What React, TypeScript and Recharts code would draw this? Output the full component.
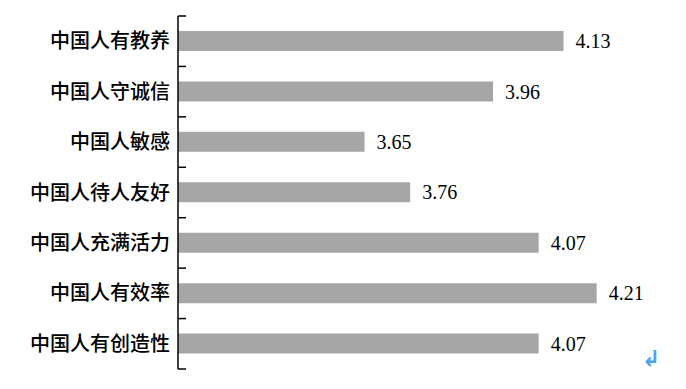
import { BarChart, Bar, XAxis, YAxis, LabelList } from 'recharts';

const categories = ['中国人有教养', '中国人守诚信', '中国人敏感', '中国人待人友好', '中国人充满活力', '中国人有效率', '中国人有创造性'];
const scores = [4.13, 3.96, 3.65, 3.76, 4.07, 4.21, 4.07];

const data = categories.map((name, i) => ({ name, score: scores[i] }));

const serif = '"Times New Roman", "Liberation Serif", serif';
const cjk = '"Noto Sans CJK SC", "Noto Sans", sans-serif';

// category label plus the small inward ticks at the band edges
function CategoryTick(props: any) {
  const { x, y, payload, index, visibleTicksCount } = props;
  const half = payload.offset ?? 0;
  const axisX = x + 8;
  const last = index === visibleTicksCount - 1;
  return (
    <g>
      <text x={x} y={y} dy="0.355em" textAnchor="end" fontSize={20} fill="#000" fontFamily={cjk} fontWeight={500}>
        {payload.value}
      </text>
      <line x1={axisX} x2={axisX + 8} y1={y - half} y2={y - half} stroke="#000" strokeWidth={1.5} />
      {last && <line x1={axisX} x2={axisX + 8} y1={y + half} y2={y + half} stroke="#000" strokeWidth={1.5} />}
    </g>
  );
}

export default function App() {
  return (
    <div style={{ position: 'absolute', left: 0, top: 0, width: 686, height: 389, background: '#fff' }}>
      <BarChart
        width={686}
        height={389}
        data={data}
        layout="vertical"
        margin={{ top: 16, right: 52, left: 0, bottom: 20 }}
      >
        <XAxis type="number" domain={[3.2, 4.3]} hide allowDataOverflow />
        <YAxis
          type="category"
          dataKey="name"
          width={178}
          tickLine={false}
          axisLine={{ stroke: '#000', strokeWidth: 1.5 }}
          tick={<CategoryTick />}
        />
        <Bar dataKey="score" fill="#a6a6a6" barSize={20} isAnimationActive={false}>
          <LabelList
            dataKey="score"
            position="right"
            offset={12}
            formatter={(v: number) => v.toFixed(2)}
            style={{ fontSize: 20, fill: '#000', fontFamily: serif }}
          />
        </Bar>
      </BarChart>
      <span style={{ position: 'absolute', left: 642, top: 346, fontSize: 22, color: '#4aa3f0', fontFamily: '"DejaVu Sans", sans-serif', fontWeight: 700 }}>
        ↲
      </span>
    </div>
  );
}
